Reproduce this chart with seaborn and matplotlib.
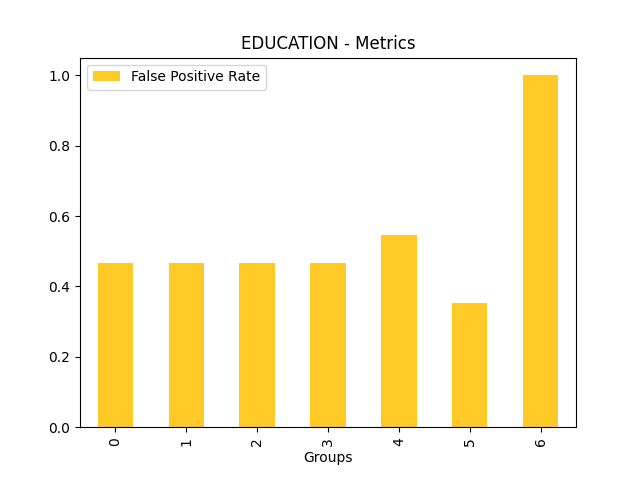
import matplotlib
matplotlib.use("Agg")
import matplotlib.pyplot as plt
import seaborn as sns
import pandas as pd

groups = ["0", "1", "2", "3", "4", "5", "6"]
fpr = [0.4667, 0.4667, 0.4667, 0.4667, 0.5455, 0.3529, 1.0]

df = pd.DataFrame({"Groups": groups, "False Positive Rate": fpr})

fig, ax = plt.subplots(figsize=(6.4, 4.8), dpi=100)
sns.barplot(data=df, x="Groups", y="False Positive Rate", color="#ffc926",
            saturation=1, width=0.5, ax=ax, label="False Positive Rate")
ax.set_xlim(-0.5, 6.5)
ax.set_ylim(0, 1.05)
ax.set_ylabel("")
ax.set_xlabel("Groups")
ax.set_title("EDUCATION - Metrics")
ax.tick_params(axis="x", labelrotation=90)
ax.legend(loc="upper left")
fig.savefig("out.png", dpi=100)
